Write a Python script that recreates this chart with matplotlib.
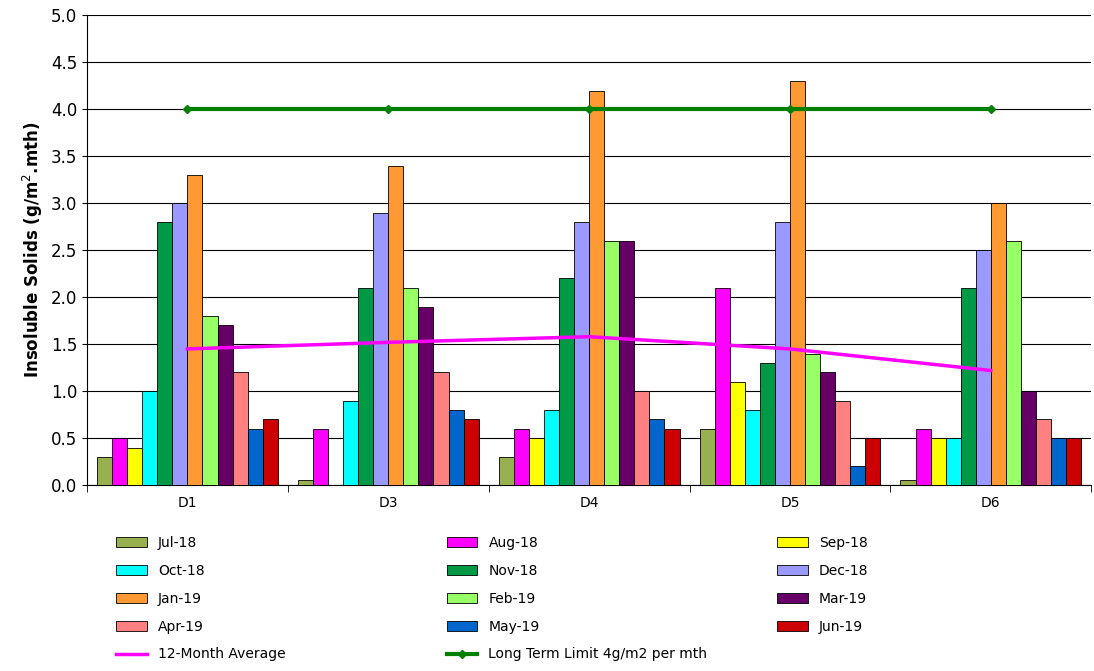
import numpy as np
import matplotlib.pyplot as plt

sites = ['D1', 'D3', 'D4', 'D5', 'D6']
months = ['Jul-18', 'Aug-18', 'Sep-18', 'Oct-18', 'Nov-18', 'Dec-18',
          'Jan-19', 'Feb-19', 'Mar-19', 'Apr-19', 'May-19', 'Jun-19']
colors = ['#99b050', '#ff00ff', '#ffff00', '#00ffff', '#009a46', '#9999ff',
          '#ff9933', '#99ff66', '#660066', '#ff8080', '#0066cc', '#cc0000']
values = [
    [0.3, 0.5, 0.4, 1.0, 2.8, 3.0, 3.3, 1.8, 1.7, 1.2, 0.6, 0.7],   # D1
    [0.05, 0.6, 0.0, 0.9, 2.1, 2.9, 3.4, 2.1, 1.9, 1.2, 0.8, 0.7],  # D3
    [0.3, 0.6, 0.5, 0.8, 2.2, 2.8, 4.2, 2.6, 2.6, 1.0, 0.7, 0.6],   # D4
    [0.6, 2.1, 1.1, 0.8, 1.3, 2.8, 4.3, 1.4, 1.2, 0.9, 0.2, 0.5],   # D5
    [0.05, 0.6, 0.5, 0.5, 2.1, 2.5, 3.0, 2.6, 1.0, 0.7, 0.5, 0.5],  # D6
]
avg = [1.45, 1.52, 1.58, 1.45, 1.22]
limit = [4.0, 4.0, 4.0, 4.0, 4.0]

vals = np.array(values)
x = np.arange(len(sites))
w = 0.075

fig = plt.figure(figsize=(10.94, 6.71), dpi=100)
ax = fig.add_axes([0.0795, 0.277, 0.918, 0.70])
handles = []
for i, m in enumerate(months):
    b = ax.bar(x + (i - 5.5) * w, vals[:, i], w, color=colors[i],
               edgecolor='black', linewidth=0.6, label=m, zorder=3)
    handles.append(b)
la, = ax.plot(x, avg, color='#ff00ff', lw=2.5, zorder=4)
ll, = ax.plot(x, limit, color='#008000', lw=3, marker='D', ms=4, zorder=4)

ax.set_xlim(-0.5, 4.5)
ax.set_ylim(0, 5)
ax.set_yticks(np.arange(0, 5.01, 0.5))
ax.set_yticklabels(['%.1f' % v for v in np.arange(0, 5.01, 0.5)], fontsize=12)
ax.set_xticks(x)
ax.set_xticklabels(sites, fontsize=10)
ax.set_xticks(np.arange(-0.5, 4.6, 1), minor=True)
ax.tick_params(axis='x', which='major', length=0, pad=8)
ax.tick_params(axis='x', which='minor', length=5)
ax.yaxis.grid(True, color='black', lw=0.8, zorder=0)
for s in ['top', 'right']:
    ax.spines[s].set_visible(False)
ax.set_ylabel('Insoluble Solids (g/m$^2$.mth)', fontsize=12, fontweight='bold')

# three legend columns at fixed places, items read row by row
all_h = handles + [la, ll]
all_l = months + ['12-Month Average', 'Long Term Limit 4g/m2 per mth']
for c, xpos in enumerate([0.095, 0.397, 0.699]):
    idx = list(range(c, len(all_h), 3))
    fig.legend([all_h[k] for k in idx], [all_l[k] for k in idx],
               loc='upper left', bbox_to_anchor=(xpos, 0.22), frameon=False,
               fontsize=10, handlelength=2.2, labelspacing=1.0)
fig.savefig('out.png')
